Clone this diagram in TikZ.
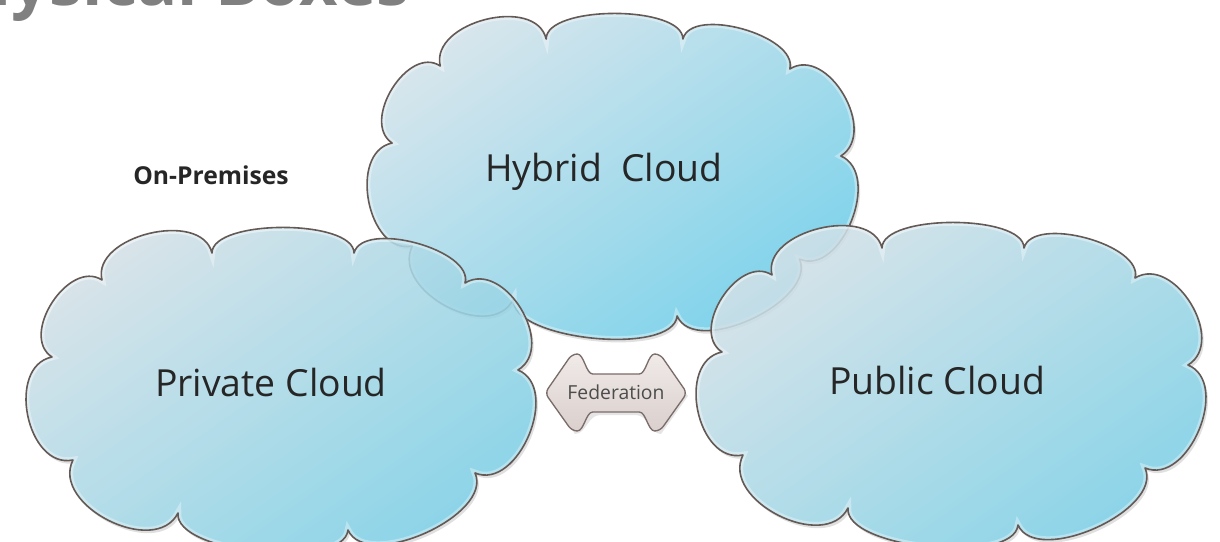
\documentclass[tikz,border=0pt]{standalone}
\usepackage{fontspec}
\setmainfont{Open Sans}
\usetikzlibrary{calc}
\definecolor{cloudlight}{HTML}{DAE6EC}
\definecolor{clouddark}{HTML}{7AD2EB}
\definecolor{cloudline}{HTML}{645955}
\definecolor{fedfill}{HTML}{F0EAE8}
\definecolor{fedfilldark}{HTML}{DAD0CD}
\definecolor{fedline}{HTML}{7A6C68}
\definecolor{titlegrey}{HTML}{808080}
\definecolor{labeltext}{HTML}{262626}
\newcommand\bmp[3]{.. controls ($(#1)!#3!90:(#2)$) and ($(#2)!#3!-90:(#1)$) .. (#2)}
\newcommand\cloudpath{(73,460)
  \bmp{73,460}{52,357}{0.45}
  \bmp{52,357}{102,280}{0.43}
  \bmp{102,280}{212,253}{0.40}
  \bmp{212,253}{354,253}{0.24}
  \bmp{354,253}{465,283}{0.30}
  \bmp{465,283}{518,370}{0.45}
  \bmp{518,370}{475,473}{0.42}
  \bmp{475,473}{348,530}{0.33}
  \bmp{348,530}{178,513}{0.24}
  \bmp{178,513}{73,460}{0.43} -- cycle}
\tikzset{
  cloudfill/.style={top color=cloudlight, bottom color=clouddark, shading angle=35},
  cloudedge/.style={draw=cloudline, line width=1.2pt, line join=round},
  cloudshadow/.style={fill=black, opacity=0.12},
  cloudglow/.style={draw=white, opacity=0.35, line width=5pt},
  cloudlabel/.style={text=labeltext, font=\fontsize{28}{32}\selectfont},
  fedshape/.style={top color=fedfill, bottom color=fedfilldark, draw=fedline, line width=1pt, rounded corners=4pt},
}
\begin{document}
\begin{tikzpicture}[x=0.75pt,y=-0.75pt]
\useasboundingbox (0,0) rectangle (1220,542);
\clip (0,0) rectangle (1220,542);
% title (cut off by the top edge, as in the reference)
\node[anchor=base east, inner sep=0, text=titlegrey, font=\bfseries\fontsize{50}{54}\selectfont] (title) at (410,6) {Physical Boxes};
% hybrid cloud
\begin{scope}[shift={(342,-214)}, xscale=0.963]
  \path[cloudshadow, shift={(2,3)}] \cloudpath;
  \path[cloudfill] \cloudpath;
  \begin{scope}
    \clip \cloudpath;
    \path[cloudglow] \cloudpath;
  \end{scope}
  \path[cloudedge] \cloudpath;
\end{scope}
% private cloud
\begin{scope}
  \path[cloudshadow, shift={(2,3)}] \cloudpath;
  \path[cloudfill, fill opacity=0.85] \cloudpath;
  \begin{scope}
    \clip \cloudpath;
    \path[cloudglow] \cloudpath;
  \end{scope}
  \path[cloudedge] \cloudpath;
\end{scope}
% public cloud
\begin{scope}[shift={(670,-5)}]
  \path[cloudshadow, shift={(2,3)}] \cloudpath;
  \path[cloudfill, fill opacity=0.85] \cloudpath;
  \begin{scope}
    \clip \cloudpath;
    \path[cloudglow] \cloudpath;
  \end{scope}
  \path[cloudedge] \cloudpath;
\end{scope}
% federation double arrow
\path[fill=black, opacity=0.1] (549,396) -- (575,358) .. controls (586,358) and (588,377) .. (600,377) -- (636,377) .. controls (648,377) and (650,358) .. (661,358) -- (688,396) -- (661,434) .. controls (650,434) and (648,415) .. (636,415) -- (600,415) .. controls (588,415) and (586,434) .. (575,434) -- cycle;
\path[fedshape] (545,393) -- (572,354) .. controls (584,354) and (586,374) .. (598,374) -- (634,374) .. controls (646,374) and (648,354) .. (660,354) -- (687,393) -- (660,431) .. controls (648,431) and (646,412) .. (634,412) -- (598,412) .. controls (586,412) and (584,431) .. (572,431) -- cycle;
% labels
\node[cloudlabel] (hybrid) at (604,172) {Hybrid\ \ Cloud};
\node[cloudlabel] (private) at (271,382) {Private Cloud};
\node[cloudlabel] (public) at (937,380) {Public Cloud};
\node[text=labeltext, font=\bfseries\fontsize{18.5}{22}\selectfont] (onprem) at (211,175) {On-Premises};
\node[text=black!70, font=\fontsize{14.5}{17}\selectfont] (fed) at (616,392) {Federation};
\end{tikzpicture}
\end{document}
